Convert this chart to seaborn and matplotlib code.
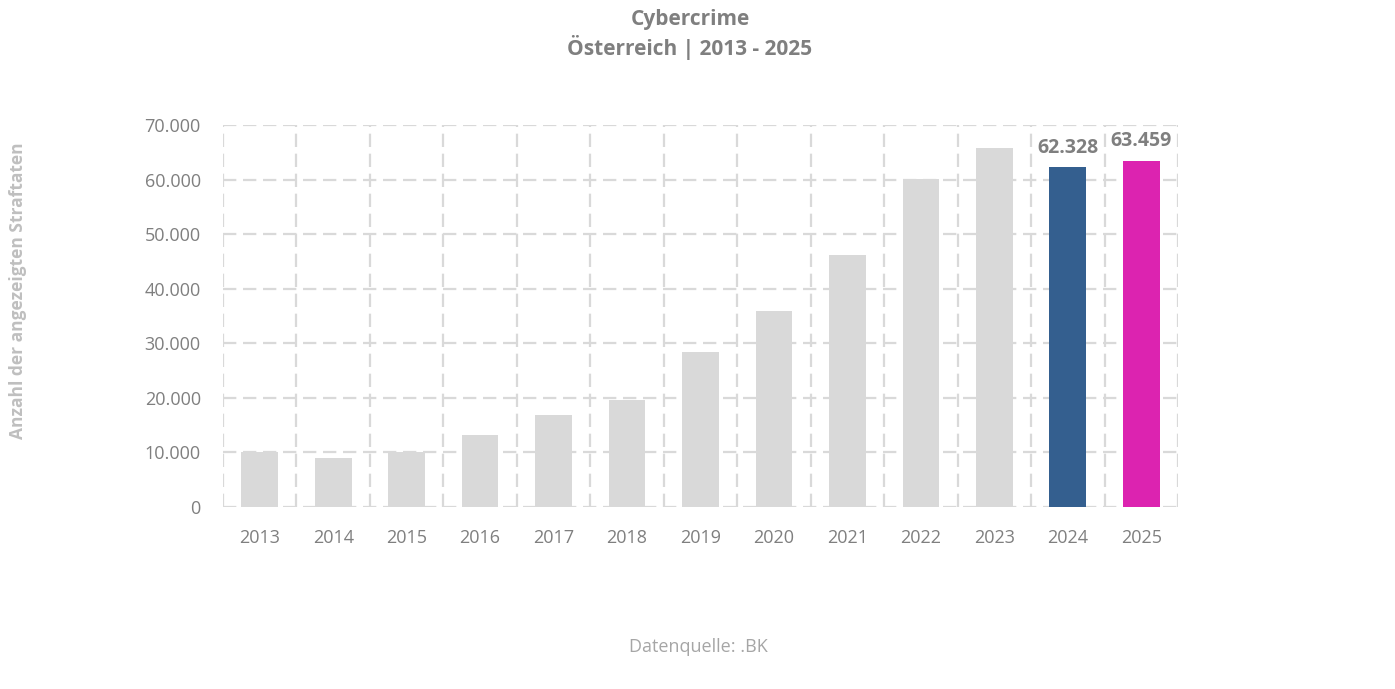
import matplotlib
matplotlib.use('Agg')

import pandas as pd
import matplotlib.pyplot as plt
import seaborn as sns
from matplotlib.ticker import FuncFormatter, MultipleLocator

# Data
years = ["2013", "2014", "2015", "2016", "2017", "2018", "2019",
         "2020", "2021", "2022", "2023", "2024", "2025"]
offences = [10051, 8966, 10010, 13103, 16804, 19627, 28439,
            35915, 46179, 60195, 65864, 62328, 63459]
bar_colors = ["#d9d9d9"] * 11 + ["#345f8f", "#dc23b0"]
labelled = {"2024": 62328, "2025": 63459}

data = pd.DataFrame({"Jahr": years, "Straftaten": offences})

sns.set_style("white")
plt.rcParams['font.family'] = ['Open Sans', 'DejaVu Sans']

fig = plt.figure(figsize=(13.95, 6.89), dpi=100)
ax = fig.add_axes([223 / 1395, 1 - 507 / 689, (1178 - 223) / 1395, (507 - 125) / 689])

sns.barplot(data=data, x="Jahr", y="Straftaten", hue="Jahr",
            palette=bar_colors, width=0.5, legend=False, ax=ax, zorder=3,
            saturation=1, linewidth=0)

ax.set_ylim(0, 70000)
ax.set_xlim(-0.5, len(years) - 0.5)
ax.yaxis.set_major_locator(MultipleLocator(10000))
ax.yaxis.set_major_formatter(FuncFormatter(lambda v, p: f"{int(v):,}".replace(",", ".")))
ax.set_xticks(range(len(years)), minor=False)
ax.set_xticks([i - 0.5 for i in range(len(years) + 1)], minor=True)

# dashed grid: horizontal at ticks, vertical between categories
grid_kw = dict(color="#d9d9d9", linestyle=(0, (6, 3)), linewidth=1.6, zorder=0)
ax.grid(axis="y", which="major", **grid_kw)
ax.grid(axis="x", which="minor", **grid_kw)
ax.grid(axis="x", which="major", visible=False)
for s in ax.spines.values():
    s.set_visible(False)
ax.tick_params(axis="both", which="both", length=0, colors="#7f7f7f", labelsize=13)
ax.tick_params(axis="x", pad=16)
ax.tick_params(axis="y", pad=16)

for i, y in enumerate(years):
    if y in labelled:
        v = labelled[y]
        ax.text(i, v + 1700, f"{v:,}".replace(",", "."), ha="center", va="bottom",
                fontsize=14, fontweight="bold", color="#7f7f7f")

ax.set_xlabel("")
ax.set_ylabel("")
fig.text(18 / 1395, 1 - 291 / 689, "Anzahl der angezeigten Straftaten", rotation=90,
         ha="center", va="center", fontsize=12.5, fontweight="bold", color="#bfbfbf")
fig.text(690 / 1395, 1 - 19 / 689, "Cybercrime", ha="center", va="center",
         fontsize=15, fontweight="bold", color="#7f7f7f")
fig.text(690 / 1395, 1 - 48 / 689, "Österreich | 2013 - 2025", ha="center", va="center",
         fontsize=15, fontweight="bold", color="#7f7f7f")
fig.text(698 / 1395, 1 - 647 / 689, "Datenquelle: .BK", ha="center", va="center",
         fontsize=13, color="#a6a6a6")

fig.savefig("out.png", dpi=100)
